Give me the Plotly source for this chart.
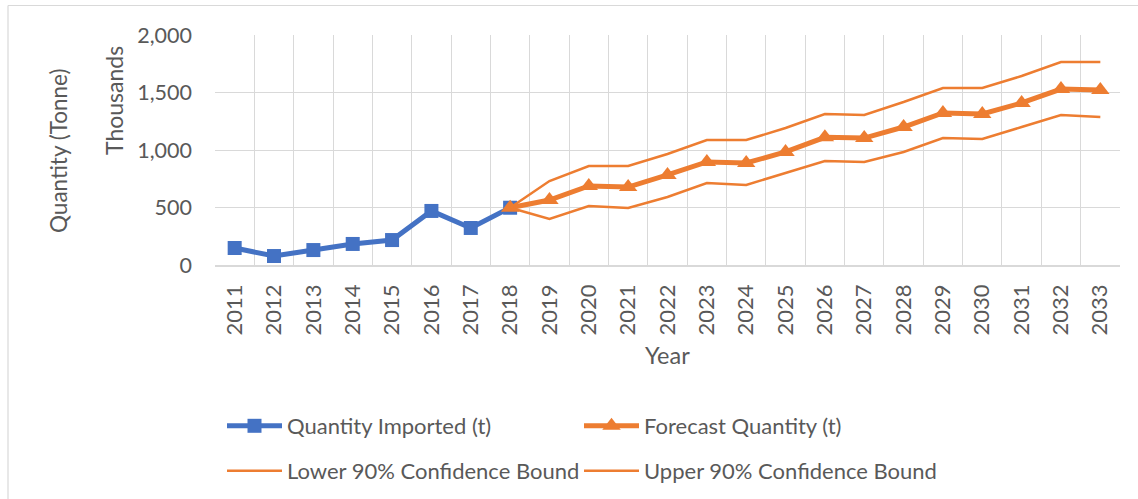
import plotly.graph_objects as go

years = list(range(2011, 2034))
hist_years = list(range(2011, 2019))
hist_values = [148, 78, 130, 183, 217, 470, 322, 498]
fc_years = list(range(2018, 2034))
forecast = [498, 565, 687, 678, 783, 896, 887, 983, 1110, 1104, 1200, 1322, 1313, 1409, 1530, 1522]
lower = [498, 400, 513, 496, 591, 713, 696, 800, 904, 896, 983, 1104, 1096, 1200, 1304, 1287]
upper = [498, 730, 861, 861, 965, 1087, 1087, 1191, 1313, 1304, 1417, 1539, 1539, 1643, 1765, 1765]
y_ticks = [0, 500, 1000, 1500, 2000]

BLUE = "#4472C4"
ORANGE = "#ED7D31"
GRID = "#D9D9D9"
TXT = "#595959"
FONT = "Lato"

W, H = 1138, 499
L, R, T, B = 215, 18, 35, 234
PW, PH = W - L - R, H - T - B


def px2x(px):
    return (px - L) / PW


def px2y(py):
    return (H - B - py) / PH


fig = go.Figure()
fig.add_trace(go.Scatter(
    x=hist_years, y=hist_values, name="Quantity Imported (t)", mode="lines+markers",
    line=dict(color=BLUE, width=5), marker=dict(symbol="square", size=14, color=BLUE),
    legend="legend"))
fig.add_trace(go.Scatter(
    x=fc_years, y=forecast, name="Forecast Quantity (t)", mode="lines+markers",
    line=dict(color=ORANGE, width=5), marker=dict(symbol="triangle-up", size=16, color=ORANGE),
    legend="legend"))
fig.add_trace(go.Scatter(
    x=fc_years, y=lower, name="Lower 90% Confidence Bound", mode="lines",
    line=dict(color=ORANGE, width=2.5), legend="legend2"))
fig.add_trace(go.Scatter(
    x=fc_years, y=upper, name="Upper 90% Confidence Bound", mode="lines",
    line=dict(color=ORANGE, width=2.5), legend="legend2"))

legend_common = dict(
    orientation="h", xref="container", yref="container", xanchor="left", yanchor="middle",
    entrywidth=287, entrywidthmode="pixels", itemwidth=55,
    font=dict(family=FONT, size=22, color=TXT), bgcolor="rgba(0,0,0,0)",
    tracegroupgap=0, itemclick=False, itemdoubleclick=False,
)

fig.update_layout(
    width=W, height=H,
    margin=dict(l=L, r=R, t=T, b=B),
    paper_bgcolor="white", plot_bgcolor="white",
    font=dict(family=FONT, size=22, color=TXT),
    showlegend=True,
    legend=dict(x=222 / W, y=1 - 426 / H, **legend_common),
    legend2=dict(x=222 / W, y=1 - 471 / H, **legend_common),
    xaxis=dict(
        range=[2010.5, 2033.5], tickmode="array", tickvals=years, ticktext=[str(y) for y in years],
        tickangle=-90, showgrid=False, zeroline=False,
        showline=True, linecolor=GRID, linewidth=1.5, mirror=False,
        ticks="", ticklabelstandoff=9,
        tickfont=dict(family=FONT, size=22, color=TXT),
        minor=dict(tickmode="linear", tick0=2010.5, dtick=1, showgrid=True, gridcolor=GRID, gridwidth=1.3),
        fixedrange=True,
    ),
    yaxis=dict(
        range=[0, 2000], tickmode="array", tickvals=y_ticks, tickformat=",d",
        showgrid=True, gridcolor=GRID, gridwidth=1.3, zeroline=False,
        showline=False, ticks="", ticklabelstandoff=22,
        tickfont=dict(family=FONT, size=21.5, color=TXT),
        fixedrange=True,
    ),
    annotations=[
        dict(text="Quantity (Tonne)", xref="paper", yref="paper", x=px2x(58), y=px2y(151),
             showarrow=False, textangle=-90, font=dict(family=FONT, size=22.5, color=TXT),
             xanchor="center", yanchor="middle"),
        dict(text="Thousands", xref="paper", yref="paper", x=px2x(114), y=px2y(101),
             showarrow=False, textangle=-90, font=dict(family=FONT, size=23, color=TXT),
             xanchor="center", yanchor="middle"),
        dict(text="Year", xref="paper", yref="paper", x=px2x(667), y=px2y(355),
             showarrow=False, font=dict(family=FONT, size=23.5, color=TXT),
             xanchor="center", yanchor="middle"),
    ],
    shapes=[
        dict(type="line", xref="paper", yref="paper", x0=px2x(8), x1=px2x(8), y0=px2y(5.5), y1=px2y(520),
             line=dict(color=GRID, width=1.2)),
        dict(type="line", xref="paper", yref="paper", x0=px2x(8), x1=px2x(1160), y0=px2y(5.5), y1=px2y(5.5),
             line=dict(color=GRID, width=1.2)),
    ],
)

fig.write_html(
    "out.html",
    config={"displayModeBar": False, "staticPlot": False},
    post_script="document.body.style.margin='0';document.body.style.overflow='hidden';",
)
